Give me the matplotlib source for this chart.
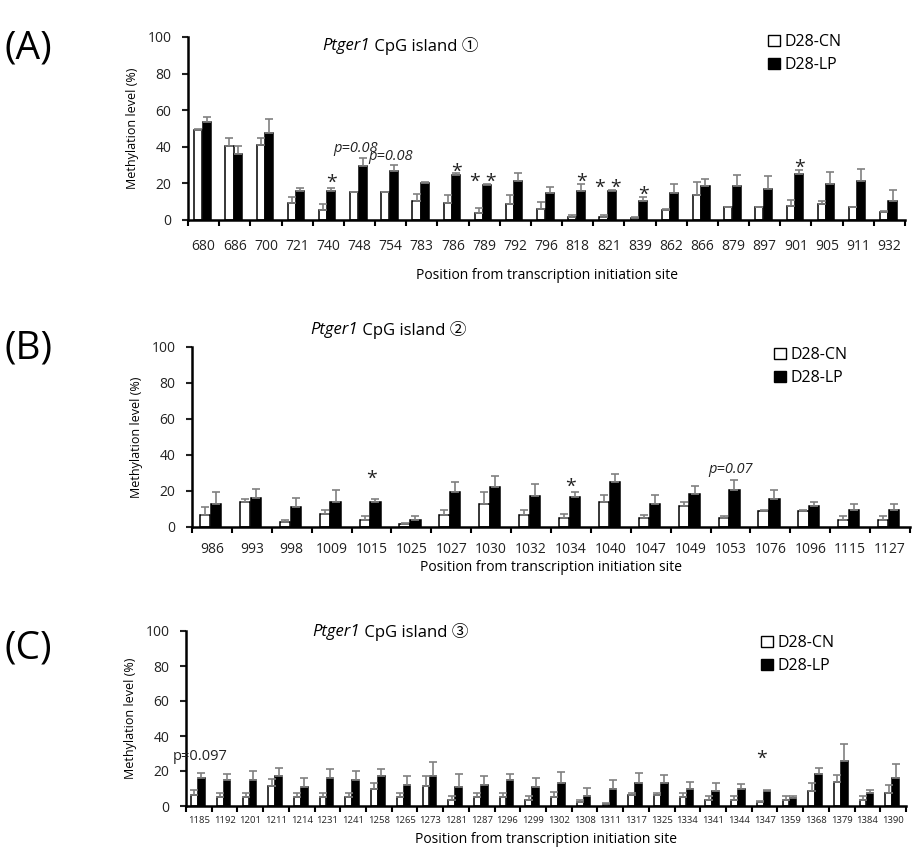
import matplotlib.pyplot as plt
from matplotlib.patches import Patch

plt.rcParams['font.family'] = ['Open Sans', 'Noto Sans CJK JP', 'DejaVu Sans']

# ---- panel A: CpG island 1 ----
pos_a = ['680', '686', '700', '721', '740', '748', '754', '783', '786', '789', '792', '796',
         '818', '821', '839', '862', '866', '879', '897', '901', '905', '911', '932']
cn_a = [49, 40.4, 41, 9.5, 5.5, 15.2, 15.2, 10.5, 9.5, 4, 8.6, 5.9,
        1.7, 1.7, 1, 5.5, 13.4, 7, 7, 7.9, 8.8, 7, 4.6]
cn_a_err = [0.6, 4.2, 3.6, 2.8, 3.1, 0.3, 0.3, 3.6, 3.9, 2.4, 5.2, 4.1,
            1.1, 1.1, 0.5, 0.5, 7.1, 0.3, 0.3, 3.1, 1.8, 0.3, 0.5]
lp_a = [53.8, 36.1, 47.5, 16, 16, 29.4, 27, 20.2, 24.4, 19, 21.5, 14.7,
        16.1, 16, 10.6, 14.7, 18.7, 18.7, 17, 25.3, 19.8, 21.5, 10.6]
lp_a_err = [2.7, 4.6, 7.5, 1.4, 1.4, 4.6, 3.3, 0.3, 1.3, 0.6, 4.2, 3.1,
            3.7, 0.3, 2.2, 5.1, 3.9, 6.1, 6.9, 2.2, 6.4, 6.4, 5.9]

# ---- panel B: CpG island 2 ----
pos_b = ['986', '993', '998', '1009', '1015', '1025', '1027', '1030', '1032', '1034', '1040',
         '1047', '1049', '1053', '1076', '1096', '1115', '1127']
cn_b = [6.5, 13.9, 2.6, 7.4, 3.7, 1.7, 6.5, 13, 6.5, 5, 13.9, 5, 11.5, 4.8, 9.1, 8.7, 3.7, 3.7]
cn_b_err = [4.4, 1.7, 1.1, 2.2, 2.2, 0.5, 3.1, 6.3, 3.1, 2.4, 3.7, 1.5, 2.2, 1.5, 0.5, 0.7, 2.2, 2.2]
lp_b = [12.8, 16.1, 11.1, 13.7, 14.1, 3.7, 19.4, 22, 17, 16.7, 24.8, 13, 18.3, 20.4, 15.6, 11.9, 9.4, 9.4]
lp_b_err = [6.5, 5, 5, 7, 1.5, 2.2, 5.8, 6.5, 6.9, 2.6, 4.6, 5, 4.7, 5.9, 5.1, 2, 3.6, 3.6]

# ---- panel C: CpG island 3 ----
pos_c = ['1185', '1192', '1201', '1211', '1214', '1231', '1241', '1258', '1265', '1273', '1281',
         '1287', '1296', '1299', '1302', '1308', '1311', '1317', '1325', '1334', '1341', '1344',
         '1347', '1359', '1368', '1379', '1384', '1390']
cn_c = [6.1, 5.1, 5.1, 11.6, 5.1, 5.1, 5.1, 9.9, 5.1, 11.6, 3.2, 5.1, 5.1, 3.2,
        5.1, 2.3, 1.1, 6.1, 6.1, 5, 3.2, 3.2, 2.3, 3.2, 8.8, 13.9, 3.2, 7.6]
cn_c_err = [2.9, 2.3, 2.3, 4, 2.3, 2.3, 2.3, 3.2, 2.3, 5.5, 2.5, 2.3, 2.3, 2.5,
            2.7, 0.9, 0.4, 1.3, 1.3, 2.4, 2.3, 2.3, 0.6, 2.5, 4.3, 4, 2.3, 4.6]
lp_c = [16, 14.7, 14.7, 17.3, 10.9, 16, 14.7, 17.1, 12.2, 17.3, 10.9, 12.2, 14.7, 10.9,
        13.1, 5.7, 9.5, 13.1, 13.1, 9.5, 8.4, 9.9, 8.4, 4.6, 18.5, 25.5, 7.2, 15.8]
lp_c_err = [2.9, 3.8, 5.3, 4.2, 5.3, 5.1, 5.3, 4, 4.9, 7.8, 7.4, 4.9, 3.6, 5.3,
            6.3, 4.6, 5.2, 5.9, 4.4, 4.4, 4.7, 2.9, 0.6, 1.1, 3.4, 9.7, 2.1, 8]

# annotations: (group index, y, text, x offset, italic)
notes_a = [(4, 20.5, '*', 0.11, False), (5, 39, 'p=0.08', -0.12, True), (6, 34.5, 'p=0.08', 0.0, True),
           (8, 26.5, '*', 0.11, False), (9, 20.5, '* *', -0.03, False), (12, 21, '*', 0.11, False),
           (13, 17.5, '* *', -0.03, False), (14, 14, '*', 0.11, False), (19, 28.5, '*', 0.11, False)]
notes_b = [(4, 27, '*', 0.0, False), (9, 22.5, '*', 0.0, False), (13, 32, 'p=0.07', 0.0, True)]
notes_c = [(0, 28, 'p=0.097', 0.05, False), (22, 27, '*', -0.1, False)]

W, H = 918, 851
fig = plt.figure(figsize=(W / 100, H / 100), dpi=100)


def px_axes(l, r, top, bot):
    return fig.add_axes([l / W, 1 - bot / H, (r - l) / W, (bot - top) / H])


def draw_panel(ax, labels, cn, cn_err, lp, lp_err, notes, tick_fs, tick_pad):
    n = len(labels)
    x = list(range(n))
    bw = 0.26
    ekw = dict(ecolor='#808080', elinewidth=1.2, capsize=3, capthick=1.2)
    ax.bar([i - 0.17 for i in x], cn, bw, color='white', edgecolor='black', linewidth=1.1,
           yerr=[[0] * n, cn_err], error_kw=ekw, zorder=2)
    ax.bar([i + 0.1 for i in x], lp, bw, color='black', edgecolor='black', linewidth=1.1,
           yerr=[[0] * n, lp_err], error_kw=ekw, zorder=2)
    ax.set_xlim(-0.5, n - 0.5)
    ax.set_ylim(0, 100)
    ax.set_yticks(range(0, 101, 20))
    ax.set_xticks(x)
    ax.set_xticklabels(labels, fontsize=tick_fs, color='#222222')
    ax.tick_params(axis='x', length=0, pad=tick_pad)
    ax.set_xticks([i - 0.5 for i in range(n + 1)], minor=True)
    ax.tick_params(axis='x', which='minor', length=4, width=1.5, direction='out')
    ax.tick_params(axis='y', length=4, width=1.5, labelsize=10, colors='#222222', pad=8)
    for s in ['top', 'right']:
        ax.spines[s].set_visible(False)
    for s in ['left', 'bottom']:
        ax.spines[s].set_linewidth(1.8)
    ax.set_ylabel('Methylation level (%)', fontsize=9, labelpad=6)
    for g, y, t, dx, it in notes:
        ax.text(g + dx, y, t, ha='center', va='center',
                fontsize=10.5 if it else (14 if '*' in t else 10.5),
                style='italic' if it else 'normal', color='#222222')


def title(split_x, y, num):
    fig.text(split_x / W, 1 - y / H, 'Ptger1', style='italic', ha='right', va='center', fontsize=12)
    fig.text(split_x / W, 1 - y / H, ' CpG island ' + num, ha='left', va='center', fontsize=12)


def legend(x, y):
    handles = [Patch(facecolor='white', edgecolor='black'), Patch(facecolor='black', edgecolor='black')]
    fig.legend(handles, ['D28-CN', 'D28-LP'], loc='upper left', bbox_to_anchor=(x / W, 1 - y / H),
               frameon=False, fontsize=11.5, handlelength=0.75, handleheight=0.75,
               handletextpad=0.3, labelspacing=0.45, borderpad=0, borderaxespad=0)


ax_a = px_axes(188, 905, 37, 220)
draw_panel(ax_a, pos_a, cn_a, cn_a_err, lp_a, lp_a_err, notes_a, 10, 14)
ax_a.set_xlabel('Position from transcription initiation site', fontsize=10, labelpad=10)
fig.text(4 / W, 1 - 48 / H, '(A)', fontsize=28, va='center')
title(370, 46, '\u2460')
legend(768, 34)

ax_b = px_axes(192, 910, 347, 527)
draw_panel(ax_b, pos_b, cn_b, cn_b_err, lp_b, lp_b_err, notes_b, 10, 11)
ax_b.set_xlabel('Position from transcription initiation site', fontsize=10, labelpad=2)
fig.text(4 / W, 1 - 348 / H, '(B)', fontsize=28, va='center')
title(358, 330, '\u2461')
legend(774, 347)

ax_c = px_axes(186, 906, 631, 806)
draw_panel(ax_c, pos_c, cn_c, cn_c_err, lp_c, lp_c_err, notes_c, 6.8, 7)
ax_c.set_xlabel('Position from transcription initiation site', fontsize=10, labelpad=5)
fig.text(4 / W, 1 - 648 / H, '(C)', fontsize=28, va='center')
title(360, 632, '\u2462')
legend(761, 635)

fig.savefig('out.png', dpi=100)
